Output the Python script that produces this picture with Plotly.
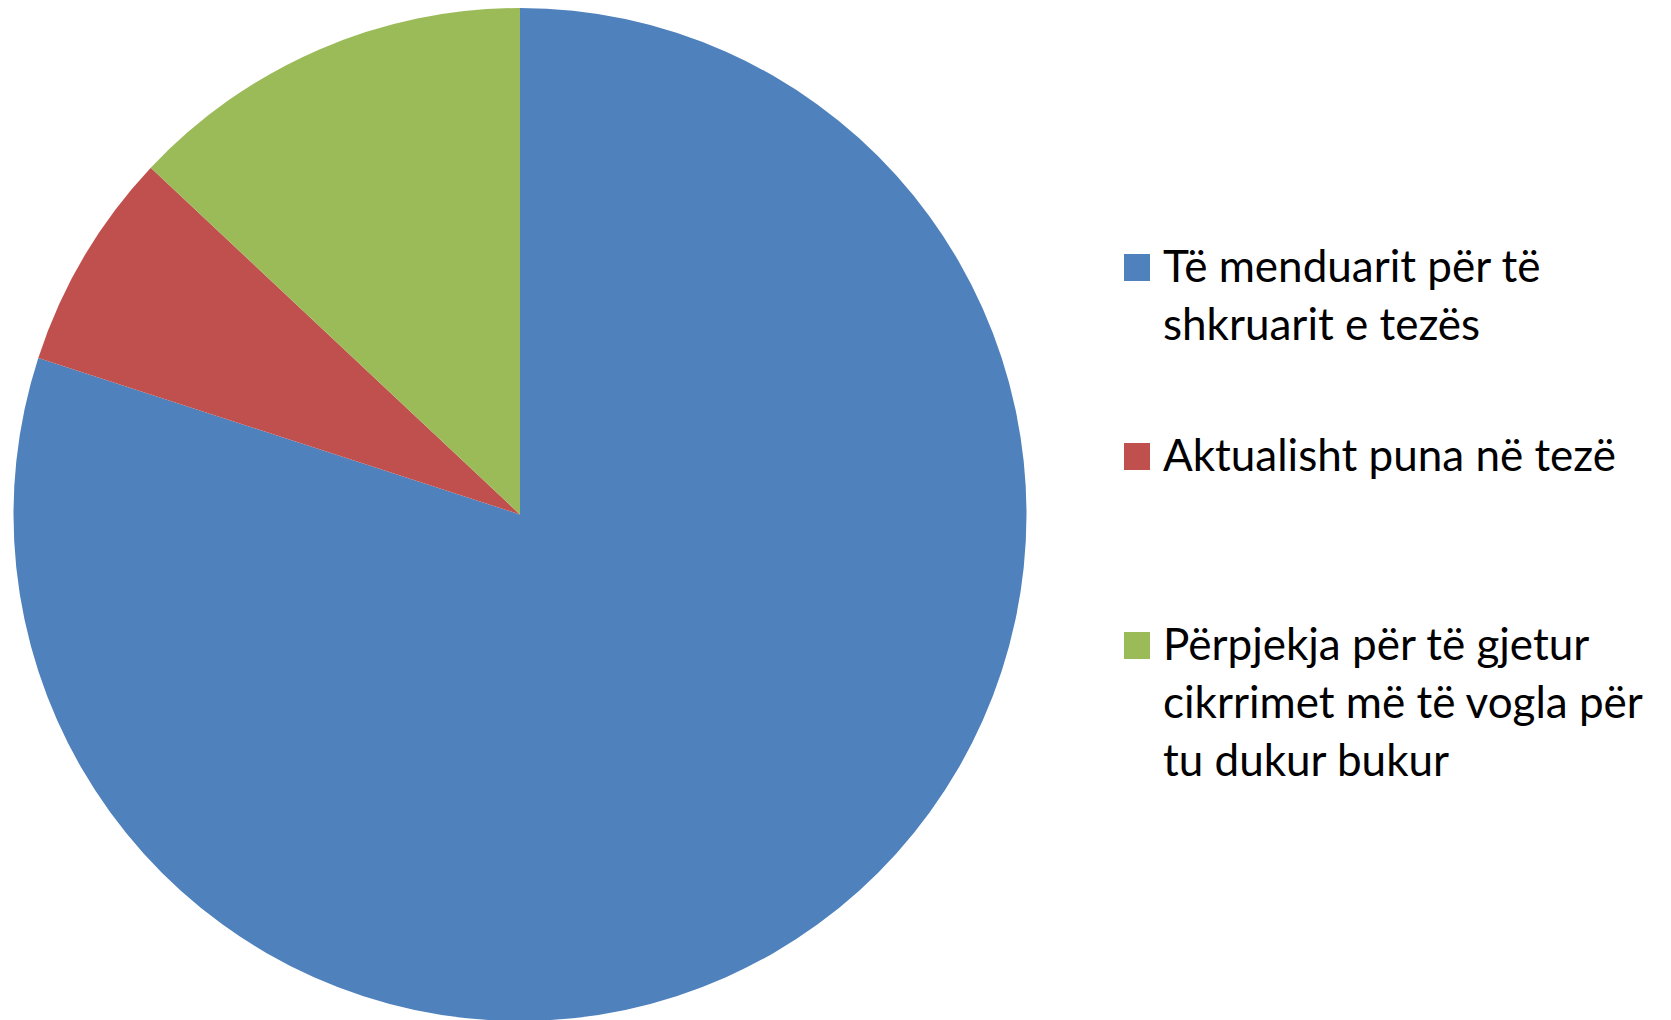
import plotly.graph_objects as go

labels = [
    "Të menduarit për të<br>shkruarit e tezës",
    "Aktualisht puna në tezë",
    "Përpjekja për të gjetur<br>cikrrimet më të vogla për<br>tu dukur bukur",
]
values = [80, 7, 13]
colors = ["#4F81BD", "#C0504D", "#9BBB59"]

W, H = 1671, 1020
OFF = 8  # page body margin offset

fig = go.Figure()
fig.add_trace(go.Pie(
    labels=[l.replace("<br>", " ") for l in labels],
    values=values,
    sort=False,
    direction="clockwise",
    rotation=0,
    marker=dict(colors=colors, line=dict(width=0)),
    textinfo="none",
    hoverinfo="label+percent",
    showlegend=False,
    domain=dict(x=[(13 - OFF) / W, (1027 - OFF) / W], y=[1 - 1013 / H, 1]),
))

# Legend drawn as paper-positioned squares and text
item_top_baseline = 282 - OFF
item_step = 189
line_step = 58
font_size = 44
sq_x0, sq_x1 = 1124 - OFF, 1150 - OFF
text_x = 1162 - OFF

for i, (lab, col) in enumerate(zip(labels, colors)):
    base = item_top_baseline + i * item_step
    fig.add_shape(
        type="rect", xref="paper", yref="paper",
        x0=sq_x0 / W, x1=sq_x1 / W,
        y0=1 - (base - 1) / H, y1=1 - (base - 28) / H,
        fillcolor=col, line=dict(width=0),
    )
    for j, line in enumerate(lab.split("<br>")):
        b = base + j * line_step
        fig.add_annotation(
            xref="paper", yref="paper",
            x=text_x / W, y=1 - (b - 17) / H,
            xanchor="left", yanchor="middle",
            text=line, showarrow=False,
            font=dict(family="Lato", size=font_size, color="#000000"),
            borderpad=0,
        )

fig.update_layout(
    width=W, height=H,
    margin=dict(l=0, r=0, t=0, b=0),
    paper_bgcolor="white",
    plot_bgcolor="white",
)

fig.write_html("out.html")
